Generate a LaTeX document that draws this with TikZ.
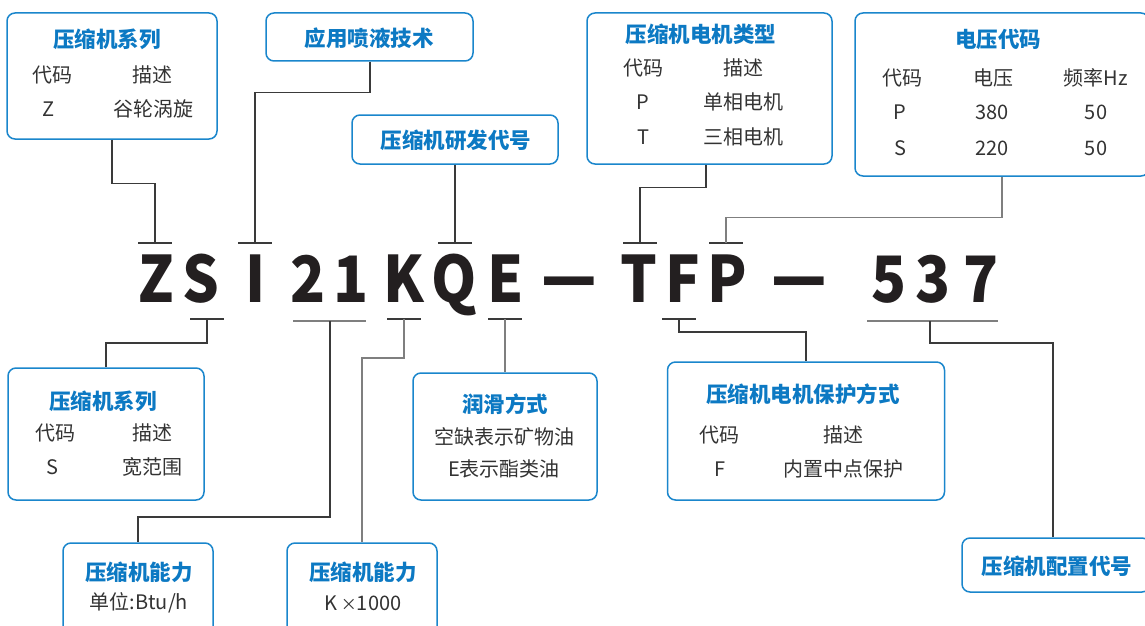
\documentclass[tikz,border=0pt]{standalone}
\usepackage{fontspec}
\setmainfont{Noto Sans CJK SC}
\newfontfamily\cjkfont{Noto Sans CJK SC}
\definecolor{boxblue}{HTML}{1A86CC}
\definecolor{titleblue}{HTML}{0C79C3}
\definecolor{bodygray}{HTML}{333333}
\definecolor{linedark}{HTML}{3A3A3A}
\definecolor{linegray}{HTML}{7F7F7F}
\definecolor{bigink}{HTML}{231F20}
\tikzset{
  box/.style={draw=boxblue, line width=1.5pt, rounded corners=8pt, inner sep=0pt, fill=white},
  ttl/.style={font=\cjkfont\bfseries\fontsize{21.5}{24}\selectfont, text=titleblue, inner sep=0pt},
  bdy/.style={font=\cjkfont\fontsize{20}{23}\selectfont, text=bodygray, inner sep=0pt},
  big/.style={font=\cjkfont\bfseries\fontsize{64}{70}\selectfont, text=bigink, inner sep=0pt, anchor=base},
  conn/.style={draw=linedark, line width=1.2pt},
  conng/.style={draw=linegray, line width=1.2pt},
}
\newcommand{\bigch}[1]{\scalebox{0.9}[1]{#1}}
\begin{document}
\begin{tikzpicture}[x=1pt,y=-1pt]
\useasboundingbox (0,0) rectangle (1145,626);
\clip (0,0) rectangle (1145,626);

% ---------- boxes ----------
\node[box, minimum width=210, minimum height=126] (b1) at (112,76) {};
\node[box, minimum width=207, minimum height=48] (b2) at (369.5,37) {};
\node[box, minimum width=206, minimum height=49] (b3) at (455,139.5) {};
\node[box, minimum width=245, minimum height=151] (b4) at (709.5,88.5) {};
\node[box, minimum width=294, minimum height=163] (b5) at (1002,94.5) {};
\node[box, minimum width=196, minimum height=132] (b6) at (106,434) {};
\node[box, minimum width=150, minimum height=110] (b7) at (138,598) {};
\node[box, minimum width=150, minimum height=110] (b8) at (362,598) {};
\node[box, minimum width=184, minimum height=127] (b9) at (505,436.5) {};
\node[box, minimum width=277, minimum height=138] (b10) at (806,431) {};
\node[box, minimum width=188, minimum height=54] (b11) at (1056,565) {};

% ---------- box texts ----------
\node[ttl] (b1t) at (107,39) {压缩机系列};
\node[bdy] (b1a) at (52,75) {代码};
\node[bdy] (b1b) at (152,75) {描述};
\node[bdy] (b1c) at (49,109) {Z};
\node[bdy] (b1d) at (153,109) {谷轮涡旋};

\node[ttl] (b2t) at (369,38) {应用喷液技术};
\node[ttl] (b3t) at (456,140) {压缩机研发代号};

\node[ttl] (b4t) at (701,34) {压缩机电机类型};
\node[bdy] (b4a) at (643,68) {代码};
\node[bdy] (b4b) at (743,68) {描述};
\node[bdy] (b4c) at (643,102) {P};
\node[bdy] (b4d) at (743,102) {单相电机};
\node[bdy] (b4e) at (643,137) {T};
\node[bdy] (b4f) at (743,137) {三相电机};

\node[ttl] (b5t) at (998,39) {电压代码};
\node[bdy] (b5a) at (902,78) {代码};
\node[bdy] (b5b) at (993,78) {电压};
\node[bdy] (b5c) at (1096,78) {频率Hz};
\node[bdy] (b5d) at (900,112) {P};
\node[bdy] (b5e) at (992,112) {380};
\node[bdy] (b5f) at (1096,112) {50};
\node[bdy] (b5g) at (900,148) {S};
\node[bdy] (b5h) at (992,148) {220};
\node[bdy] (b5i) at (1096,148) {50};

\node[ttl] (b6t) at (103,401) {压缩机系列};
\node[bdy] (b6a) at (55,433) {代码};
\node[bdy] (b6b) at (152,433) {描述};
\node[bdy] (b6c) at (52,467) {S};
\node[bdy] (b6d) at (152,467) {宽范围};

\node[ttl] (b7t) at (139,572) {压缩机能力};
\node[bdy] (b7a) at (139,603) {单位:Btu/h};

\node[ttl] (b8t) at (363,572) {压缩机能力};
\node[bdy] (b8a) at (363,603) {K\,{\fontsize{16}{18}\selectfont×}1000};

\node[ttl] (b9t) at (505,404) {润滑方式};
\node[bdy] (b9a) at (504,437) {空缺表示矿物油};
\node[bdy] (b9b) at (504,469) {E表示酯类油};

\node[ttl] (b10t) at (803,394) {压缩机电机保护方式};
\node[bdy] (b10a) at (719,435) {代码};
\node[bdy] (b10b) at (843,435) {描述};
\node[bdy] (b10c) at (720,469) {F};
\node[bdy] (b10d) at (843,469) {内置中点保护};

\node[ttl] (b11t) at (1057,566) {压缩机配置代号};

% ---------- big model code ----------
\node[big] (lZ) at (156,302) {\bigch{Z}};
\node[big] (lS) at (201,302) {\bigch{S}};
\node[big] (lI) at (256,302) {\bigch{I}};
\node[big] (l2) at (308,302) {\bigch{2}};
\node[big] (l1) at (351,302) {\bigch{1}};
\node[big] (lK) at (404,302) {\bigch{K}};
\node[big] (lQ) at (454,302) {\bigch{Q}};
\node[big] (lE) at (506,302) {\bigch{E}};
\node[big] (ld1) at (569,303) {\scalebox{0.95}[1.2]{—}};
\node[big] (lT) at (639,302) {\bigch{T}};
\node[big] (lF) at (683,302) {\bigch{F}};
\node[big] (lP) at (727,302) {\bigch{P}};
\node[big] (ld2) at (799,303) {\scalebox{0.95}[1.2]{—}};
\node[big] (l5) at (889,302) {\bigch{5}};
\node[big] (l3) at (933,302) {\bigch{3}};
\node[big] (l7) at (981,302) {\bigch{7}};

% ---------- tick bars ----------
\coordinate (tZ) at (155,243);
\coordinate (tI) at (255,243);
\coordinate (tQ) at (455,243);
\coordinate (tT) at (640,243);
\coordinate (tP) at (726,243);
\coordinate (tS) at (207,319);
\coordinate (t21) at (330,321);
\coordinate (tK) at (404,319);
\coordinate (tE) at (505,319);
\coordinate (tF) at (679,319);
\coordinate (t537) at (930,321);

\foreach \c in {tZ,tI,tQ,tT,tP,tS,tK,tE,tF}
  \draw[conn] ([xshift=-17pt]\c) -- ([xshift=17pt]\c);
\draw[conng] ([xshift=-37pt]t21) -- ([xshift=36pt]t21);
\draw[conng] ([xshift=-63pt]t537) -- ([xshift=68pt]t537);

% ---------- connectors ----------
\draw[conn] (b1.south) -- ++(0,44) -| (tZ);
\draw[conn] ([xshift=0.5pt]b2.south) -- ++(0,31) -| (tI);
\draw[conn] (b3.south) -- (tQ);
\draw[conn] ([xshift=-3.5pt]b4.south) -- ++(0,23) -| (tT);
\draw[conng] (b5.south) -- ++(0,41) -| (tP);
\draw[conn] (tS) -- ++(0,24) -| (b6.north);
\draw[conn] (t21) -- ++(0,196) -| (b7.north);
\draw[conng] (tK) -- ++(0,39) -| (b8.north);
\draw[conng] (tE) -- (b9.north);
\draw[conn] (tF) -- ++(0,13) -| (b10.north);
\draw[conn] (t537) -- ++(0,22) -| ([xshift=-3pt]b11.north);
\end{tikzpicture}
\end{document}
